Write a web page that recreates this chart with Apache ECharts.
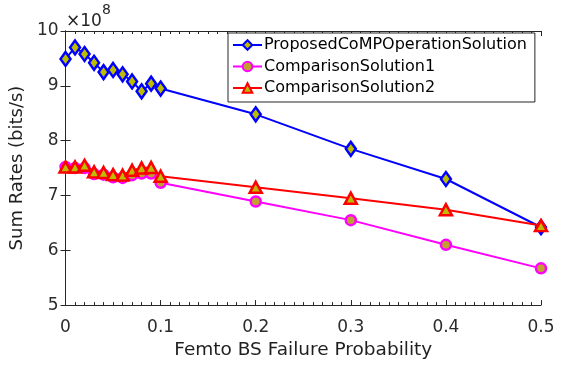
<!DOCTYPE html>
<html><head><meta charset="utf-8">
<script src="https://cdn.jsdelivr.net/npm/echarts@6/dist/echarts.min.js"></script>
<style>html,body{margin:0;padding:0;background:#fff}#c{width:568px;height:365px}</style>
</head><body><div id="c"></div>
<script>
const xValues = [0, 0.01, 0.02, 0.03, 0.04, 0.05, 0.06, 0.07, 0.08, 0.09, 0.1, 0.2, 0.3, 0.4, 0.5];
const proposed = [9.49, 9.70, 9.58, 9.42, 9.25, 9.29, 9.21, 9.08, 8.90, 9.04, 8.95, 8.48, 7.85, 7.30, 6.42];
const comparison1 = [7.52, 7.50, 7.50, 7.39, 7.38, 7.33, 7.32, 7.37, 7.40, 7.40, 7.23, 6.89, 6.55, 6.10, 5.67];
const comparison2 = [7.52, 7.52, 7.55, 7.43, 7.42, 7.38, 7.37, 7.46, 7.50, 7.51, 7.35, 7.15, 6.95, 6.74, 6.45];
const seriesNames = ['ProposedCoMPOperationSolution', 'ComparisonSolution1', 'ComparisonSolution2'];
const xTitle = 'Femto BS Failure Probability';
const yTitle = 'Sum Rates (bits/s)';

const font = 'DejaVu Sans, Liberation Sans, sans-serif';
const pair = arr => xValues.map((x, i) => [x, arr[i]]);
const axisLine = {show: true, lineStyle: {color: '#262626', width: 1}};
const chart = echarts.init(document.getElementById('c'), null, {renderer: 'canvas'});
chart.setOption({
  animation: false,
  backgroundColor: '#fff',
  grid: {left: 65, right: 27, top: 31, bottom: 59, containLabel: false},
  xAxis: [{
    type: 'value', min: 0, max: 0.5, interval: 0.1, position: 'bottom',
    name: xTitle, nameLocation: 'middle', nameGap: 35,
    nameTextStyle: {fontFamily: font, fontSize: 18.5, color: '#1f1f1f'},
    axisLine: axisLine,
    axisTick: {show: true, inside: true, length: 5, lineStyle: {color: '#262626'}},
    minorTick: {show: true, splitNumber: 10, length: 3, lineStyle: {color: '#262626'}},
    axisLabel: {fontFamily: font, fontSize: 17, color: '#2b2b2b', margin: 14},
    splitLine: {show: false}
  }, {
    type: 'value', min: 0, max: 0.5, interval: 0.1, position: 'top',
    axisLine: axisLine,
    axisTick: {show: true, inside: true, length: 5, lineStyle: {color: '#262626'}},
    minorTick: {show: true, splitNumber: 10, length: 3, lineStyle: {color: '#262626'}},
    axisLabel: {show: false}, splitLine: {show: false}
  }],
  yAxis: [{
    type: 'value', min: 5, max: 10, interval: 1, position: 'left',
    name: yTitle, nameLocation: 'middle', nameGap: 34, nameRotate: 90,
    nameTextStyle: {fontFamily: font, fontSize: 18, color: '#1f1f1f'},
    axisLine: axisLine,
    axisTick: {show: true, inside: true, length: 5, lineStyle: {color: '#262626'}},
    axisLabel: {fontFamily: font, fontSize: 17, color: '#2b2b2b', margin: 7},
    splitLine: {show: false}
  }, {
    type: 'value', min: 5, max: 10, interval: 1, position: 'right',
    axisLine: axisLine,
    axisTick: {show: true, inside: true, length: 5, lineStyle: {color: '#262626'}},
    axisLabel: {show: false}, splitLine: {show: false}
  }],
  legend: {
    orient: 'vertical', left: 228, top: 33,
    padding: [2, 8, 4, 4], itemGap: 1.5, itemWidth: 29, itemHeight: 12,
    backgroundColor: '#fff', borderColor: '#262626', borderWidth: 1, borderRadius: 0,
    textStyle: {fontFamily: font, fontSize: 16, lineHeight: 20, color: '#000', padding: [0, 0, 0, -3]},
    data: seriesNames
  },
  graphic: [{
    type: 'text', left: 66, top: 3,
    style: {
      text: '{a|×10}{b|8}',
      rich: {
        a: {fontFamily: font, fontSize: 17, fill: '#262626', padding: [10, 0, 0, 0]},
        b: {fontFamily: font, fontSize: 14, fill: '#262626', verticalAlign: 'top'}
      }
    }
  }],
  series: [{
    name: seriesNames[0], type: 'line', data: pair(proposed),
    lineStyle: {color: '#0000ff', width: 2}, itemStyle: {color: '#bcbc00', borderColor: '#0000ff', borderWidth: 2.5},
    symbol: 'diamond', symbolSize: [10, 14], showAllSymbol: true, z: 3
  }, {
    name: seriesNames[1], type: 'line', data: pair(comparison1),
    lineStyle: {color: '#ff00ff', width: 2}, itemStyle: {color: '#c0a030', borderColor: '#ff00ff', borderWidth: 2.5},
    symbol: 'circle', symbolSize: 10, showAllSymbol: true, z: 2
  }, {
    name: seriesNames[2], type: 'line', data: pair(comparison2),
    lineStyle: {color: '#ff0000', width: 2}, itemStyle: {color: '#bcbc00', borderColor: '#ff0000', borderWidth: 2.5},
    symbol: 'triangle', symbolSize: [12, 11], showAllSymbol: true, z: 4
  }]
});
</script></body></html>
